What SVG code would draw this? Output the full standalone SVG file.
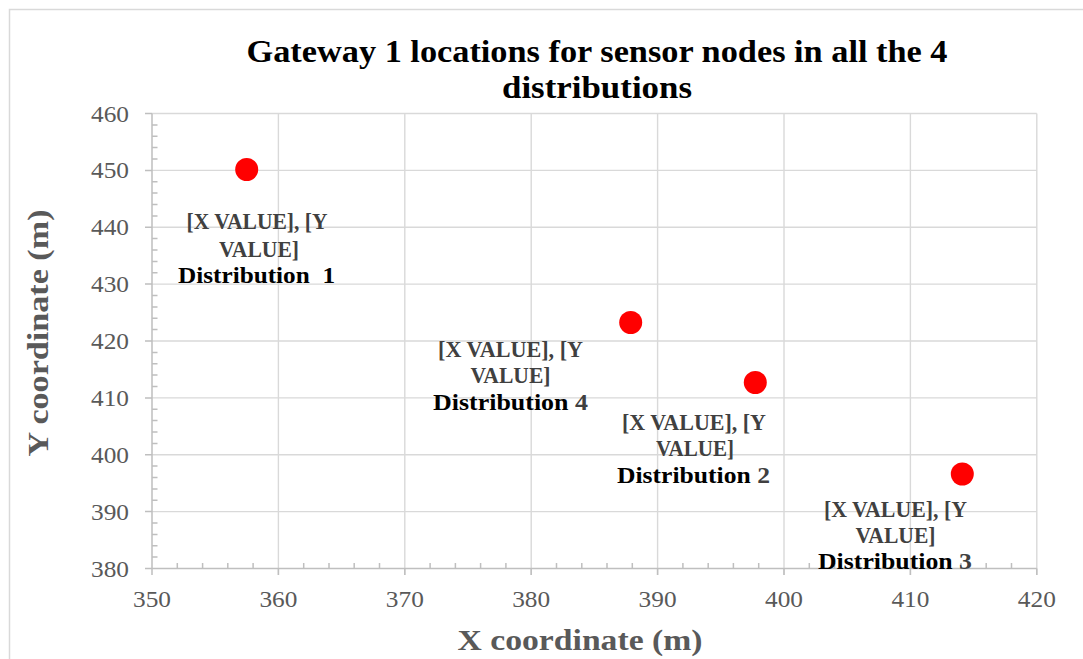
<svg xmlns="http://www.w3.org/2000/svg" width="1083" height="659" viewBox="0 0 1083 659">
<style>
.grid{stroke:#d9d9d9;stroke-width:1.4;fill:none}
.axis{stroke:#bfbfbf;stroke-width:1.5;fill:none}
.tick{font-family:"Liberation Serif",serif;font-size:23px;fill:#595959}
.atitle{font-family:"Liberation Serif",serif;font-size:30px;font-weight:bold;fill:#595959}
.title{font-family:"Liberation Serif",serif;font-size:32px;font-weight:bold;fill:#000}
.lbl{font-family:"Liberation Serif",serif;font-size:23px;font-weight:bold;fill:#404040;text-anchor:middle}
.dist{fill:#000}
.pt{fill:#ff0000}
</style>
<rect x="9.5" y="9.5" width="1100" height="700" fill="#fff" stroke="#d9d9d9" stroke-width="1.5"/>
<g id="title">
<text class="title" x="597" y="62" text-anchor="middle" textLength="701" lengthAdjust="spacingAndGlyphs">Gateway 1 locations for sensor nodes in all the 4</text>
<text class="title" x="597" y="98" text-anchor="middle" textLength="190" lengthAdjust="spacingAndGlyphs">distributions</text>
</g>
<g id="gridlines">
<path class="grid" d="M152 113.5H1036.8M152 170.4H1036.8M152 227.25H1036.8M152 284.1H1036.8M152 341H1036.8M152 397.9H1036.8M152 454.75H1036.8M152 511.6H1036.8"/>
<path class="grid" d="M278.4 113.5V575M404.8 113.5V575M531.2 113.5V575M657.6 113.5V575M784 113.5V575M910.4 113.5V575M1036.8 113.5V575"/>
</g>
<g id="axes">
<path class="axis" d="M152 113.5V575M145 568.5H1036.8"/>
<path class="axis" d="M145 113.5H152M145 170.4H152M145 227.25H152M145 284.1H152M145 341H152M145 397.9H152M145 454.75H152M145 511.6H152"/>
<path class="axis" d="M152 557.1h5.5M152 545.75h5.5M152 534.4h5.5M152 523h5.5M152 500.25h5.5M152 488.9h5.5M152 477.5h5.5M152 466.1h5.5M152 443.4h5.5M152 432h5.5M152 420.6h5.5M152 409.25h5.5M152 386.5h5.5M152 375.1h5.5M152 363.75h5.5M152 352.4h5.5M152 329.6h5.5M152 318.25h5.5M152 306.9h5.5M152 295.5h5.5M152 272.75h5.5M152 261.4h5.5M152 250h5.5M152 238.6h5.5M152 215.9h5.5M152 204.5h5.5M152 193.1h5.5M152 181.75h5.5M152 159h5.5M152 147.6h5.5M152 136.25h5.5M152 124.9h5.5"/>
<path class="axis" d="M278.4 568.5V575M404.8 568.5V575M531.2 568.5V575M657.6 568.5V575M784 568.5V575M910.4 568.5V575M1036.8 568.5V575"/>
<path class="axis" d="M177.3 568.5v-5.5M202.6 568.5v-5.5M227.8 568.5v-5.5M253.1 568.5v-5.5M303.7 568.5v-5.5M329 568.5v-5.5M354.2 568.5v-5.5M379.5 568.5v-5.5M430.1 568.5v-5.5M455.4 568.5v-5.5M480.6 568.5v-5.5M505.9 568.5v-5.5M556.5 568.5v-5.5M581.8 568.5v-5.5M607 568.5v-5.5M632.3 568.5v-5.5M682.9 568.5v-5.5M708.2 568.5v-5.5M733.4 568.5v-5.5M758.7 568.5v-5.5M809.3 568.5v-5.5M834.6 568.5v-5.5M859.8 568.5v-5.5M885.1 568.5v-5.5M935.7 568.5v-5.5M961 568.5v-5.5M986.2 568.5v-5.5M1011.5 568.5v-5.5"/>
</g>
<g id="y-tick-labels" class="tick" text-anchor="end">
<text x="129" y="121.5" textLength="38" lengthAdjust="spacingAndGlyphs">460</text>
<text x="129" y="178.4" textLength="38" lengthAdjust="spacingAndGlyphs">450</text>
<text x="129" y="235.2" textLength="38" lengthAdjust="spacingAndGlyphs">440</text>
<text x="129" y="292.1" textLength="38" lengthAdjust="spacingAndGlyphs">430</text>
<text x="129" y="349" textLength="38" lengthAdjust="spacingAndGlyphs">420</text>
<text x="129" y="405.9" textLength="38" lengthAdjust="spacingAndGlyphs">410</text>
<text x="129" y="462.7" textLength="38" lengthAdjust="spacingAndGlyphs">400</text>
<text x="129" y="519.6" textLength="38" lengthAdjust="spacingAndGlyphs">390</text>
<text x="129" y="576.5" textLength="38" lengthAdjust="spacingAndGlyphs">380</text>
</g>
<g id="x-tick-labels" class="tick" text-anchor="middle">
<text x="152" y="606.5" textLength="38" lengthAdjust="spacingAndGlyphs">350</text>
<text x="278.4" y="606.5" textLength="38" lengthAdjust="spacingAndGlyphs">360</text>
<text x="404.8" y="606.5" textLength="38" lengthAdjust="spacingAndGlyphs">370</text>
<text x="531.2" y="606.5" textLength="38" lengthAdjust="spacingAndGlyphs">380</text>
<text x="657.6" y="606.5" textLength="38" lengthAdjust="spacingAndGlyphs">390</text>
<text x="784" y="606.5" textLength="38" lengthAdjust="spacingAndGlyphs">400</text>
<text x="910.4" y="606.5" textLength="38" lengthAdjust="spacingAndGlyphs">410</text>
<text x="1036.8" y="606.5" textLength="38" lengthAdjust="spacingAndGlyphs">420</text>
</g>
<g id="axis-titles">
<text class="atitle" x="580" y="650" text-anchor="middle" textLength="245" lengthAdjust="spacingAndGlyphs">X coordinate (m)</text>
<text class="atitle" transform="translate(48 333) rotate(-90)" x="0" y="0" text-anchor="middle" textLength="247" lengthAdjust="spacingAndGlyphs">Y coordinate (m)</text>
</g>
<g id="point-distribution-1">
<circle class="pt" cx="246.7" cy="169.5" r="11.5"/>
<text class="lbl" x="257" y="229" textLength="141" lengthAdjust="spacingAndGlyphs">[X VALUE], [Y</text>
<text class="lbl" x="259" y="256.5" textLength="80" lengthAdjust="spacingAndGlyphs">VALUE]</text>
<text class="lbl dist" x="256.5" y="283" textLength="157" lengthAdjust="spacingAndGlyphs" xml:space="preserve">Distribution  1</text>
</g>
<g id="point-distribution-4">
<circle class="pt" cx="630.7" cy="322.5" r="11.5"/>
<text class="lbl" x="510.5" y="356.7" textLength="145" lengthAdjust="spacingAndGlyphs">[X VALUE], [Y</text>
<text class="lbl" x="510.5" y="383.3" textLength="80" lengthAdjust="spacingAndGlyphs">VALUE]</text>
<text class="lbl dist" x="510.5" y="410" textLength="155" lengthAdjust="spacingAndGlyphs">Distribution <tspan fill="#404040">4</tspan></text>
</g>
<g id="point-distribution-2">
<circle class="pt" cx="755.3" cy="382.5" r="11.5"/>
<text class="lbl" x="694" y="429.5" textLength="144" lengthAdjust="spacingAndGlyphs">[X VALUE], [Y</text>
<text class="lbl" x="695" y="456.3" textLength="78" lengthAdjust="spacingAndGlyphs">VALUE]</text>
<text class="lbl dist" x="693.5" y="483.3" textLength="153" lengthAdjust="spacingAndGlyphs">Distribution <tspan fill="#404040">2</tspan></text>
</g>
<g id="point-distribution-3">
<circle class="pt" cx="962.3" cy="474" r="11.5"/>
<text class="lbl" x="895.5" y="516.7" textLength="143" lengthAdjust="spacingAndGlyphs">[X VALUE], [Y</text>
<text class="lbl" x="895.5" y="542.7" textLength="80" lengthAdjust="spacingAndGlyphs">VALUE]</text>
<text class="lbl dist" x="895" y="569.3" textLength="154" lengthAdjust="spacingAndGlyphs">Distribution <tspan fill="#404040">3</tspan></text>
</g>
</svg>
